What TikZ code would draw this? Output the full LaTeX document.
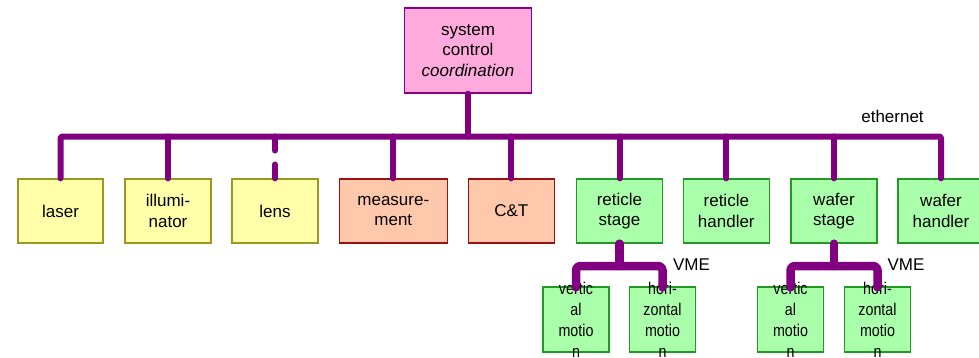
\documentclass[tikz,border=0pt]{standalone}
\usepackage{fontspec}
\setmainfont{Liberation Sans}
\newfontfamily\narrowfont[FakeStretch=0.84]{Liberation Sans}
\definecolor{busc}{HTML}{800080}
\definecolor{yfill}{HTML}{FFFFAA}
\definecolor{ydraw}{HTML}{999922}
\definecolor{sfill}{HTML}{FFC8AA}
\definecolor{sdraw}{HTML}{991111}
\definecolor{gfill}{HTML}{AAFFAA}
\definecolor{gdraw}{HTML}{229922}
\definecolor{pfill}{HTML}{FFAADD}
\definecolor{pdraw}{HTML}{880088}
\tikzset{
  box/.style={draw, line width=1.3pt, inner sep=0pt, align=center,
    minimum width=86pt, minimum height=64pt,
    font=\fontsize{17}{20.5}\selectfont},
  ybox/.style={box, fill=yfill, draw=ydraw},
  sbox/.style={box, fill=sfill, draw=sdraw},
  gbox/.style={box, fill=gfill, draw=gdraw},
  subbox/.style={draw=gdraw, fill=gfill, line width=1.3pt, inner sep=0pt,
    minimum width=66pt, minimum height=65pt},
  subtext/.style={inner sep=0pt, align=center,
    font=\narrowfont\fontsize{17}{21}\selectfont},
  bus/.style={draw=busc, line width=6pt, line cap=round, line join=round},
  vme/.style={draw=busc, line width=8.5pt, line cap=round, line join=round, rounded corners=4pt},
  lbl/.style={inner sep=0pt, font=\fontsize{17}{20}\selectfont},
}
\begin{document}
\begin{tikzpicture}[x=1pt,y=-1pt]
\useasboundingbox (0,0) rectangle (979,357);
\node[box, fill=pfill, draw=pdraw, minimum width=127pt, minimum height=85pt] (ctrl) at (468,50.5) {system\\control\\\textit{coordination}};
\node[ybox, minimum width=85pt] (laser) at (60.5,211) {laser};
\node[ybox] (ill) at (168,211) {illumi-\\nator};
\node[ybox] (lens) at (275,211) {lens};
\node[sbox, minimum width=108pt] (meas) at (393.3,211) {measure-\\ment};
\node[sbox] (ct) at (511.3,211) {C\&T};
\node[gbox] (rs) at (619.5,211) {reticle\\stage};
\node[gbox] (rh) at (726.3,211) {reticle\\handler};
\node[gbox] (ws) at (834,211) {wafer\\stage};
\node[gbox] (wh) at (941,211) {wafer\\handler};
\node[subbox] (rv) at (576,319.5) {};
\node[subbox] (rhm) at (662.5,319.5) {};
\node[subbox] (wv) at (790.5,319.5) {};
\node[subbox] (whm) at (877.5,319.5) {};
\node[subtext] (rvt) at (rv) {vertic\\al\\motio\\n};
\node[subtext] (rhmt) at (rhm) {hori-\\zontal\\motio\\n};
\node[subtext] (wvt) at (wv) {vertic\\al\\motio\\n};
\node[subtext] (whmt) at (whm) {hori-\\zontal\\motio\\n};
\node[lbl] (eth) at (892.5,116) {ethernet};
\node[lbl] (vme1) at (691.5,264.5) {VME};
\node[lbl] (vme2) at (906,264.5) {VME};
\coordinate (busy) at (0,136.5);
\coordinate (vmey) at (0,266);
% ethernet bus
\draw[bus, rounded corners=2pt] (laser.north) -- (laser.north |- busy) -- (wh.north |- busy) -- (wh.north);
\draw[bus] (ctrl.south) -- (ctrl.south |- busy);
\draw[bus] (ill.north |- busy) -- (ill.north);
\draw[bus, dash pattern=on 14pt off 14pt] (lens.north |- busy) -- (lens.north);
\draw[bus] (meas.north |- busy) -- (meas.north);
\draw[bus] (ct.north |- busy) -- (ct.north);
\draw[bus] (rs.north |- busy) -- (rs.north);
\draw[bus] (rh.north |- busy) -- (rh.north);
\draw[bus] (ws.north |- busy) -- (ws.north);
% VME buses
\draw[vme] (rs.south) -- (rs.south |- vmey);
\draw[vme] ([yshift=-1pt]rv.north) -- (rv.north |- vmey) -- (rhm.north |- vmey) -- ([yshift=-1pt]rhm.north);
\draw[vme] (ws.south) -- (ws.south |- vmey);
\draw[vme] ([yshift=-1pt]wv.north) -- (wv.north |- vmey) -- (whm.north |- vmey) -- ([yshift=-1pt]whm.north);
\end{tikzpicture}
\end{document}
